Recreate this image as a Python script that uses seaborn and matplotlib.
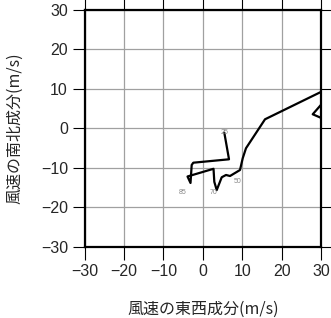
import matplotlib
matplotlib.use("Agg")
import matplotlib.pyplot as plt
import seaborn as sns
import pandas as pd

# wind components (m/s), path order
u = [5.46, 6.65, -2.41, -2.82, -3.12, -3.88, 2.72, 2.92, 3.53, 4.80, 5.89, 6.90, 9.44, 10.13, 10.96, 15.79, 35.0, 27.9, 36.0]
v = [-1.06, -7.80, -8.66, -9.24, -13.8, -12.15, -10.2, -13.5, -15.6, -12.35, -11.77, -12.03, -10.51, -7.54, -5.0, 2.33, 11.7, 3.6, 0.1]

label_text = ["25", "85", "70", "50"]
label_u = [5.6, -5.0, 2.6, 8.9]
label_v = [-1.1, -16.1, -16.1, -13.5]

ticks = [-30, -20, -10, 0, 10, 20, 30]

sns.set_style("white")
plt.rcParams['font.family'] = ['Liberation Sans', 'Noto Sans CJK JP', 'DejaVu Sans']

fig = plt.figure(figsize=(3.31, 3.18), dpi=100)
ax = fig.add_axes([0.2556, 0.2233, 0.7142, 0.7453])

df = pd.DataFrame({"u": u, "v": v, "i": range(len(u))})
sns.lineplot(data=df, x="u", y="v", sort=False, estimator=None, color="black",
             linewidth=1.6, ax=ax)

for t, xx, yy in zip(label_text, label_u, label_v):
    ax.text(xx, yy, t, fontsize=5, color="#888888", ha="center", va="center",
            family=['Liberation Sans', 'DejaVu Sans'])

ax.set_xlim(-30, 30)
ax.set_ylim(-30, 30)
ax.set_xticks(ticks)
ax.set_yticks(ticks)
ax.set_xticklabels([str(t).replace('-', '\u2212') for t in ticks], fontsize=11.5, family=['Liberation Sans', 'DejaVu Sans'])
ax.set_yticklabels([str(t).replace('-', '\u2212') for t in ticks], fontsize=11.5, family=['Liberation Sans', 'DejaVu Sans'])
ax.grid(True, color="#a0a0a0", linewidth=0.9)
ax.tick_params(direction="out", length=9, width=0.8, color="black",
               top=True, right=True, left=True, bottom=True, pad=3)
for s in ax.spines.values():
    s.set_visible(True)
    s.set_color("black")
    s.set_linewidth(1.6)

ax.set_xlabel("風速の東西成分(m/s)", fontsize=11.5, family=['Noto Sans CJK JP', 'DejaVu Sans'], labelpad=16)
ax.set_ylabel("風速の南北成分(m/s)", fontsize=11.5, family=['Noto Sans CJK JP', 'DejaVu Sans'], labelpad=13)

fig.savefig("out.png", dpi=100)
